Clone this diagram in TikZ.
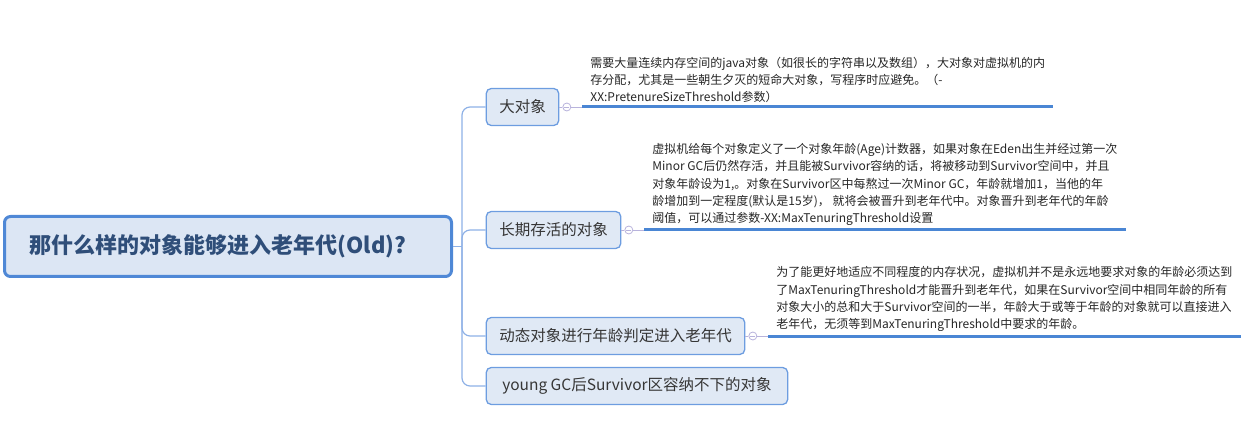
\documentclass[tikz,border=0pt]{standalone}
\usepackage{fontspec}
\setmainfont{Noto Sans CJK SC}
\usetikzlibrary{positioning}
\definecolor{rootline}{HTML}{4F88D6}
\definecolor{rootfill}{HTML}{DCE6F4}
\definecolor{roottext}{HTML}{2F4E79}
\definecolor{branchline}{HTML}{6D9DE0}
\definecolor{branchfill}{HTML}{E0E9F5}
\definecolor{branchtext}{HTML}{363636}
\definecolor{trunkblue}{HTML}{8EB1E6}
\definecolor{ulineblue}{HTML}{4A86D4}
\definecolor{knobline}{HTML}{B8B3DC}
\tikzset{
  root/.style={draw=rootline, line width=3pt, fill=rootfill, rounded corners=6pt,
    minimum width=447pt, minimum height=60pt, text=roottext,
    font=\fontsize{22}{26}\selectfont\bfseries},
  branch/.style={draw=branchline, line width=1.3pt, fill=branchfill, rounded corners=5pt,
    minimum height=37pt, inner xsep=13pt, anchor=west, text=branchtext,
    font=\fontsize{15.5}{18}\selectfont},
  note/.style={anchor=south west, align=left, inner xsep=8pt, inner ysep=4pt,
    text=black!85, font=\fontsize{12}{17.3}\selectfont},
  trunk/.style={draw=trunkblue, line width=1.2pt, rounded corners=8pt},
  uline/.style={draw=ulineblue, line width=3pt},
  knob/.style={circle, draw=knobline, fill=white, line width=0.8pt, inner sep=0pt, minimum size=8pt}
}

\begin{document}
\begin{tikzpicture}[x=1pt,y=-1pt]
  \useasboundingbox (0,0) rectangle (1259,422);

  % Root
  \node[root] (root) at (228,246.5) {\hspace*{-20pt}那什么样的对象能够进入老年代(Old)?};
  \coordinate (hub) at (462,246.5);

  % Branches
  \node[branch] (b1) at (485.6,107) {大对象};
  \node[branch] (b2) at (485.6,230) {长期存活的对象};
  \node[branch] (b3) at (485.6,336) {动态对象进行年龄判定进入老年代};
  \node[branch, inner xsep=16pt] (b4) at (485.6,386) {young GC后Survivor区容纳不下的对象};

  \draw[trunk] (root.east) -- (hub);
  \foreach \b in {b1,b2,b3,b4}
    \draw[trunk] (hub) |- (\b.west);

  % Knobs
  \node[knob, right=3pt of b1] (k1) {};
  \node[knob, right=3pt of b2] (k2) {};
  \node[knob, right=3pt of b3] (k3) {};

  % Notes
  \node[note] (n1) at ([xshift=11pt]k1.east) {需要大量连续内存空间的java对象（如很长的字符串以及数组），大对象对虚拟机的内\\
    存分配，尤其是一些朝生夕灭的短命大对象，写程序时应避免。（-\\
    XX:PretenureSizeThreshold参数）};
  \node[note] (n2) at ([xshift=11pt]k2.east) {虚拟机给每个对象定义了一个对象年龄(Age)计数器，如果对象在Eden出生并经过第一次\\
    Minor GC后仍然存活，并且能被Survivor容纳的话，将被移动到Survivor空间中，并且\\
    对象年龄设为1,。对象在Survivor区中每熬过一次Minor GC，年龄就增加1，当他的年\\
    龄增加到一定程度(默认是15岁)， 就将会被晋升到老年代中。对象晋升到老年代的年龄\\
    阈值，可以通过参数-XX:MaxTenuringThreshold设置};
  \node[note] (n3) at ([xshift=11pt]k3.east) {为了能更好地适应不同程度的内存状况，虚拟机并不是永远地要求对象的年龄必须达到\\
    了MaxTenuringThreshold才能晋升到老年代，如果在Survivor空间中相同年龄的所有\\
    对象大小的总和大于Survivor空间的一半，年龄大于或等于年龄的对象就可以直接进入\\
    老年代，无须等到MaxTenuringThreshold中要求的年龄。};

  \foreach \i in {1,2,3} {
    \draw[knobline, line width=0.8pt] (b\i.east) -- (k\i.west);
    \draw[knobline, line width=0.8pt] (k\i.east) -- (n\i.south west);
    \draw[knobline, line width=0.8pt] ([xshift=-2.5pt]k\i.center) -- ([xshift=2.5pt]k\i.center);
    \draw[uline] (n\i.south west) -- (n\i.south east);
  }
\end{tikzpicture}
\end{document}
